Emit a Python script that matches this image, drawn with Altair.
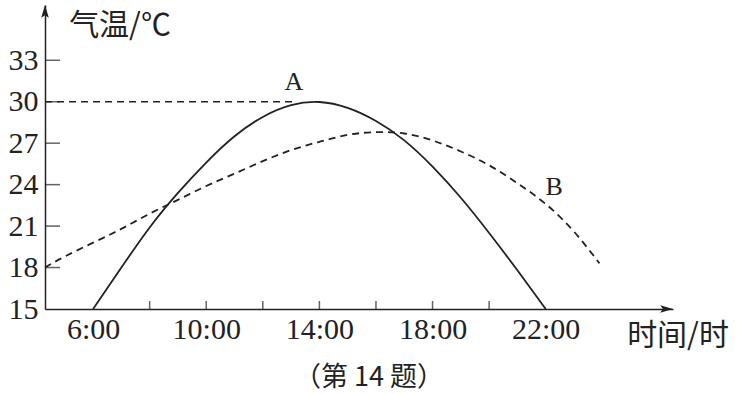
import altair as alt
import pandas as pd

# Curve A (solid)
hours_a = [6, 7, 8, 9, 10, 11, 12, 13, 14, 15, 16, 17, 18, 19, 20, 21, 22]
temp_a = [15.0, 18.0, 20.9, 23.4, 25.6, 27.5, 28.9, 29.75, 29.98, 29.55, 28.6, 27.2, 25.3, 23.05, 20.5, 17.8, 15.0]
# Curve B (dashed)
hours_b = [4.3, 5, 6, 7, 8, 9, 10, 11, 12, 13, 14, 15, 16, 17, 18, 19, 20, 21, 22, 23, 23.9]
temp_b = [18.0, 18.8, 19.8, 20.8, 21.9, 22.9, 23.9, 24.8, 25.7, 26.5, 27.1, 27.6, 27.8, 27.7, 27.2, 26.4, 25.4, 24.1, 22.6, 20.6, 18.3]

tick_hours = [8, 10, 12, 14, 16, 18, 20]
label_hours = [6, 10, 14, 18, 22]
tick_temps = [18, 21, 24, 27, 30, 33]
label_temps = [15, 18, 21, 24, 27, 30, 33]
ref_hours = [4.3, 13.2]
ref_temp = 30
curve_labels = ["A", "B"]
curve_label_hours = [13.1, 22.3]
curve_label_temps = [31.4, 23.8]

X_MIN, X_MAX = 4.3, 26.5
Y_MIN, Y_MAX = 15, 37.0

INK = "#222222"
SERIF = "Liberation Serif"
CJK = "Noto Sans CJK SC"

xs = alt.Scale(domain=[X_MIN, X_MAX], nice=False, zero=False)
ys = alt.Scale(domain=[Y_MIN, Y_MAX], nice=False, zero=False)

df_a = pd.DataFrame({"h": hours_a, "t": temp_a})
df_b = pd.DataFrame({"h": hours_b, "t": temp_b})

x_axis = alt.Axis(values=label_hours, labelExpr="datum.value + ':00'", grid=False, ticks=False,
                  domain=True, domainColor=INK, domainWidth=1.5, labelFont=SERIF, labelFontSize=30,
                  labelColor=INK, labelPadding=5, title=None, labelFlush=False)
y_axis = alt.Axis(values=label_temps, grid=False, ticks=False, domain=True, domainColor=INK,
                  domainWidth=1.5, labelFont=SERIF, labelFontSize=30, labelColor=INK,
                  labelPadding=7, title=None, labelFlush=False)

line_a = alt.Chart(df_a).mark_line(interpolate="natural", color=INK, strokeWidth=1.8).encode(
    x=alt.X("h:Q", scale=xs, axis=x_axis),
    y=alt.Y("t:Q", scale=ys, axis=y_axis),
)
line_b = alt.Chart(df_b).mark_line(interpolate="natural", color=INK, strokeWidth=1.8,
                                   strokeDash=[7, 5]).encode(
    x=alt.X("h:Q", scale=xs),
    y=alt.Y("t:Q", scale=ys),
)

ref = alt.Chart(pd.DataFrame({"x": [ref_hours[0]], "x2": [ref_hours[1]], "y": [ref_temp]})).mark_rule(
    color=INK, strokeWidth=1.6, strokeDash=[7, 5]).encode(
    x=alt.X("x:Q", scale=xs), x2="x2:Q", y=alt.Y("y:Q", scale=ys))

xticks = alt.Chart(pd.DataFrame({"h": tick_hours, "t": [Y_MIN] * len(tick_hours)})).mark_tick(
    orient="vertical", size=8, thickness=1.5, yOffset=-4, color=INK).encode(
    x=alt.X("h:Q", scale=xs), y=alt.Y("t:Q", scale=ys))
yticks = alt.Chart(pd.DataFrame({"h": [X_MIN] * len(tick_temps), "t": tick_temps})).mark_tick(
    orient="horizontal", size=15, thickness=1.5, xOffset=7.5, color=INK).encode(
    x=alt.X("h:Q", scale=xs), y=alt.Y("t:Q", scale=ys))

arrow_up = alt.Chart(pd.DataFrame({"h": [X_MIN], "t": [Y_MAX]})).mark_point(
    shape="M0,0L-0.3,1L0,0.8L0.3,1Z", size=650, filled=True, color=INK, opacity=1).encode(
    x=alt.X("h:Q", scale=xs), y=alt.Y("t:Q", scale=ys))
arrow_right = alt.Chart(pd.DataFrame({"h": [X_MAX], "t": [Y_MIN]})).mark_point(
    shape="M0,0L-1,-0.3L-0.8,0L-1,0.3Z", size=650, filled=True, color=INK, opacity=1).encode(
    x=alt.X("h:Q", scale=xs), y=alt.Y("t:Q", scale=ys))

labels = alt.Chart(pd.DataFrame({"n": curve_labels, "h": curve_label_hours, "t": curve_label_temps})).mark_text(
    font=SERIF, fontSize=26, color=INK).encode(
    x=alt.X("h:Q", scale=xs), y=alt.Y("t:Q", scale=ys), text="n:N")

ytitle = alt.Chart(pd.DataFrame({"s": ["气温/℃"]})).mark_text(
    font=CJK, fontSize=30, color=INK, align="center", baseline="middle").encode(
    x=alt.value(75), y=alt.value(21), text="s:N")
xtitle = alt.Chart(pd.DataFrame({"s": ["时间/时"]})).mark_text(
    font=CJK, fontSize=30, color=INK, align="center", baseline="middle").encode(
    x=alt.value(633), y=alt.value(331), text="s:N")
caption = alt.Chart(pd.DataFrame({"s": ["（第 14 题）"]})).mark_text(
    font=CJK, fontSize=27, color=INK, align="center", baseline="middle").encode(
    x=alt.value(324), y=alt.value(373), text="s:N")

chart = alt.layer(line_a, line_b, ref, xticks, yticks, arrow_up, arrow_right, labels,
                  ytitle, xtitle, caption).properties(
    width=628, height=304,
    autosize=alt.AutoSizeParams(type="none"),
    padding={"left": 45, "top": 5, "right": 64, "bottom": 85},
    background="white",
).configure_view(stroke=None)

chart.save("out.html", embed_options={"renderer": "svg", "actions": False})
